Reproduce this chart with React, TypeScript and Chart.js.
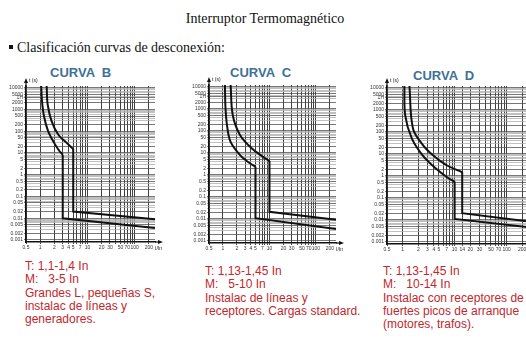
import React, { useEffect, useRef } from "react";
import { Chart, registerables } from "chart.js";
Chart.register(...registerables);

// ---- axis grids / tick labels ----
const yGridValues: number[] = [];
for (let e = -3; e <= 3; e++) {
  for (let m = 1; m <= 9; m++) yGridValues.push(parseFloat((m * Math.pow(10, e)).toPrecision(3)));
}
yGridValues.push(3600, 10000);

const yLabelValues = [10000, 5000, 3600, 2000, 1000, 500, 200, 100, 50, 20, 10, 5, 2, 1, 0.5, 0.2, 0.1, 0.05, 0.02, 0.01, 0.005, 0.002, 0.001];
const yLabelTexts = ["10000", "5000", "1H", "2000", "1000", "500", "200", "100", "50", "20", "10", "5", "2", "1", "0.5", "0.2", "0.1", "0.05", "0.02", "0.01", "0.005", "0.002", "0.001"];

const xGridBC = [0.5, 1, 2, 3, 4, 5, 6, 7, 8, 9, 10, 20, 30, 40, 50, 60, 70, 80, 90, 100, 200];
const xGridD = [0.5, 1, 2, 3, 4, 5, 6, 7, 8, 9, 10, 14, 20, 30, 40, 50, 60, 70, 80, 90, 100, 200];
const xLabelsBC = [0.5, 1, 2, 3, 4, 5, 7, 10, 20, 30, 50, 70, 100, 200];
const xLabelsD = [0.5, 1, 2, 3, 4, 5, 7, 10, 14, 20, 30, 50, 70, 100, 200];

// ---- Curve B ----
const bMinThermI = [1.05, 1.09, 1.2, 1.45, 1.89, 2.5, 3];
const bMinThermT = [12000, 2500, 500, 110, 34, 13, 8.3];
const bMinMagI = [3, 3, 270];
const bMinMagT = [8.3, 0.0098, 0.0035];
const bMaxThermI = [1.37, 1.44, 1.75, 2.42, 3.64, 5];
const bMaxThermT = [12000, 1660, 282, 69, 29, 15];
const bMaxMagI = [5, 5, 270];
const bMaxMagT = [15, 0.02, 0.009];

// ---- Curve C ----
const cMinThermI = [1.1, 1.13, 1.22, 1.45, 2.32, 3.6, 5];
const cMinThermT = [12000, 1200, 180, 32, 7.9, 3.6, 2.35];
const cMinMagI = [5, 5, 270];
const cMinMagT = [2.35, 0.0107, 0.0035];
const cMaxThermI = [1.46, 1.62, 2.32, 4.14, 7.0, 10];
const cMaxThermT = [12000, 520, 65, 16, 6.9, 4.2];
const cMaxMagI = [10, 10, 270];
const cMaxMagT = [4.2, 0.021, 0.009];

// ---- Curve D ----
const dMinThermI = [1.08, 1.12, 1.5, 2.4, 4.3, 7.5, 10];
const dMinThermT = [12000, 560, 50, 8.8, 2.2, 0.8, 0.55];
const dMinMagI = [10, 10, 270];
const dMinMagT = [0.55, 0.011, 0.0046];
const dMaxThermI = [1.35, 1.58, 2.46, 3.8, 6.9, 14];
const dMaxThermT = [12000, 141, 25, 8.8, 3.1, 1.45];
const dMaxMagI = [14, 14, 270];
const dMaxMagT = [1.45, 0.02, 0.0085];

const seg = (xs: number[], ts: number[], smooth: boolean) => ({
  data: xs.map((x, i) => ({ x, y: ts[i] })),
  borderColor: "#111",
  borderWidth: 2,
  pointRadius: 0,
  fill: false,
  tension: smooth ? 0.35 : 0,
  cubicInterpolationMode: "default",
});

const axisDecor = {
  id: "axisDecor",
  afterDraw(chart: any, _a: any, opts: any) {
    const { ctx } = chart;
    const { left, top, right, bottom } = chart.chartArea;
    ctx.save();
    ctx.fillStyle = "#111";
    ctx.strokeStyle = "#111";
    ctx.lineWidth = 1.2;
    ctx.beginPath();
    ctx.moveTo(left, top);
    ctx.lineTo(left, top - 4);
    ctx.stroke();
    ctx.beginPath();
    ctx.moveTo(left, top - 8);
    ctx.lineTo(left - 2, top - 3);
    ctx.lineTo(left + 2, top - 3);
    ctx.closePath();
    ctx.fill();
    ctx.beginPath();
    ctx.moveTo(right, bottom);
    ctx.lineTo(right + 4, bottom);
    ctx.stroke();
    ctx.beginPath();
    ctx.moveTo(right + 8, bottom);
    ctx.lineTo(right + 3, bottom - 2);
    ctx.lineTo(right + 3, bottom + 2);
    ctx.closePath();
    ctx.fill();
    ctx.font = '5px "Liberation Sans"';
    ctx.textBaseline = "alphabetic";
    ctx.fillText(opts.yTitle, left + 3, top - 4);
    ctx.fillText(opts.xTitle, right, bottom + 8);
    ctx.restore();
  },
};

type CurveProps = {
  left: number; top: number; width: number; height: number;
  padTop: number; padRight: number; yAxisWidth: number; xAxisHeight: number;
  xGrid: number[]; xLabels: number[]; datasets: any[];
};

function CurveChart(p: CurveProps) {
  const ref = useRef<HTMLCanvasElement>(null);
  useEffect(() => {
    if (!ref.current) return;
    const ySet = new Set(yLabelValues);
    const xSet = new Set(p.xLabels);
    const chart = new Chart(ref.current, {
      type: "line",
      data: { datasets: p.datasets },
      plugins: [axisDecor as any],
      options: {
        animation: false,
        responsive: false,
        devicePixelRatio: 1,
        events: [],
        layout: { padding: { top: p.padTop, right: p.padRight, left: 0, bottom: 0 } },
        plugins: {
          legend: { display: false },
          tooltip: { enabled: false },
          axisDecor: { yTitle: "t (s)", xTitle: "I/In" },
        } as any,
        scales: {
          x: {
            type: "logarithmic",
            min: 0.5,
            max: 270,
            afterBuildTicks: (axis: any) => { axis.ticks = p.xGrid.map((v) => ({ value: v })); },
            afterFit: (axis: any) => { axis.height = p.xAxisHeight; },
            grid: { color: "#2a2a2a", lineWidth: 0.9, tickLength: 2 },
            border: { color: "#111", width: 1.5 },
            ticks: {
              autoSkip: false,
              maxRotation: 0,
              padding: 1,
              color: "#333",
              font: { family: "Liberation Sans", size: 5 },
              callback: (v: any) => (xSet.has(Number(v)) ? String(v) : ""),
            },
          },
          y: {
            type: "logarithmic",
            min: 0.0008,
            max: 12000,
            afterBuildTicks: (axis: any) => { axis.ticks = yGridValues.map((v) => ({ value: v })); },
            afterFit: (axis: any) => { axis.width = p.yAxisWidth; },
            grid: {
              color: (c: any) => (c.tick && ySet.has(c.tick.value) ? "#555" : "#b0b0b0"),
              lineWidth: 0.8,
              tickLength: 2,
            },
            border: { color: "#111", width: 1.5 },
            ticks: {
              autoSkip: false,
              padding: 1,
              color: "#333",
              font: { family: "Liberation Sans", size: 5 },
              callback: (v: any) => {
                const i = yLabelValues.indexOf(Number(v));
                return i >= 0 ? yLabelTexts[i] : "";
              },
            },
          },
        },
      } as any,
    });
    return () => chart.destroy();
  }, []);
  return (
    <div style={{ position: "absolute", left: p.left, top: p.top, width: p.width, height: p.height }}>
      <canvas ref={ref} width={p.width} height={p.height} style={{ display: "block" }} />
    </div>
  );
}

const red = "#c1272d";
const curveBlue = "#3d7196";

function RedBlock({ left, top, lines }: { left: number; top: number; lines: string[] }) {
  return (
    <div style={{ position: "absolute", left, top, fontFamily: "'Liberation Sans', Arial, sans-serif", fontSize: 12, lineHeight: "13.3px", color: red, whiteSpace: "pre" }}>
      {lines.map((l, i) => (<div key={i}>{l}</div>))}
    </div>
  );
}

function CurveTitle({ left, top, text }: { left: number; top: number; text: string }) {
  return (
    <div style={{ position: "absolute", left, top, fontFamily: "'Liberation Sans', Arial, sans-serif", fontWeight: "bold", fontSize: 13, lineHeight: "15px", color: curveBlue, whiteSpace: "pre" }}>
      {text}
    </div>
  );
}

export default function App() {
  const dsB = [
    seg(bMinThermI, bMinThermT, true), seg(bMinMagI, bMinMagT, false),
    seg(bMaxThermI, bMaxThermT, true), seg(bMaxMagI, bMaxMagT, false),
  ];
  const dsC = [
    seg(cMinThermI, cMinThermT, true), seg(cMinMagI, cMinMagT, false),
    seg(cMaxThermI, cMaxThermT, true), seg(cMaxMagI, cMaxMagT, false),
  ];
  const dsD = [
    seg(dMinThermI, dMinThermT, true), seg(dMinMagI, dMinMagT, false),
    seg(dMaxThermI, dMaxThermT, true), seg(dMaxMagI, dMaxMagT, false),
  ];
  return (
    <div style={{ position: "fixed", left: 0, top: 0, width: 526, height: 339, overflow: "hidden", background: "#fff" }}>
      <div style={{ position: "absolute", left: 115, top: 10.6, width: 300, textAlign: "center", fontFamily: "'Liberation Serif', 'Times New Roman', serif", fontSize: 14, lineHeight: "16px", color: "#111" }}>
        Interruptor Termomagnético
      </div>
      <div style={{ position: "absolute", left: 8.5, top: 45, width: 4, height: 4, background: "#111" }} />
      <div style={{ position: "absolute", left: 17, top: 40, fontFamily: "'Liberation Serif', 'Times New Roman', serif", fontSize: 14, lineHeight: "16px", color: "#111", whiteSpace: "pre" }}>
        Clasificación curvas de desconexión:
      </div>
      <CurveTitle left={50} top={65} text={"CURVA  B"} />
      <CurveTitle left={230} top={65} text={"CURVA  C"} />
      <CurveTitle left={413} top={67.5} text={"CURVA  D"} />

      <CurveChart left={0} top={76} width={169} height={178} padTop={10} padRight={14} yAxisWidth={26} xAxisHeight={12} xGrid={xGridBC} xLabels={xLabelsBC} datasets={dsB} />
      <CurveChart left={183} top={75} width={167} height={180} padTop={10} padRight={14} yAxisWidth={26} xAxisHeight={12} xGrid={xGridBC} xLabels={xLabelsBC} datasets={dsC} />
      <CurveChart left={361} top={76} width={182} height={180} padTop={10} padRight={14} yAxisWidth={26} xAxisHeight={12} xGrid={xGridD} xLabels={xLabelsD} datasets={dsD} />

      <RedBlock left={25} top={260} lines={["T: 1,1-1,4 In", "M:   3-5 In", "Grandes L, pequeñas S,", "instalac de líneas y", "generadores."]} />
      <RedBlock left={205} top={265} lines={["T: 1,13-1,45 In", "M:   5-10 In", "Instalac de líneas y", "receptores. Cargas standard."]} />
      <RedBlock left={383} top={265} lines={["T: 1,13-1,45 In", "M:   10-14 In", "Instalac con receptores de", "fuertes picos de arranque", "(motores, trafos)."]} />
    </div>
  );
}
